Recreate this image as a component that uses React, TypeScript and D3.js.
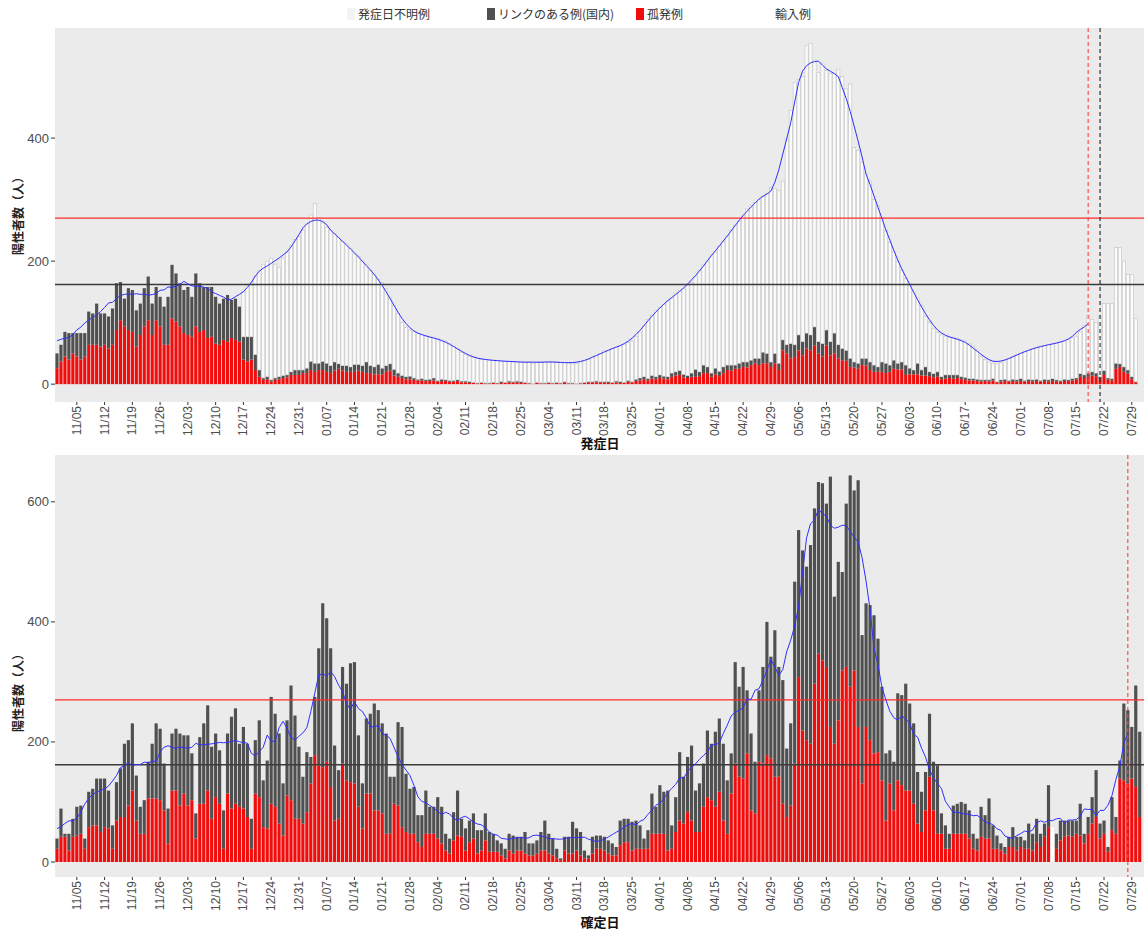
import * as d3 from "d3"

// day 0 = 2020-10-31, one value per day
const startDay = new Date(Date.UTC(2020, 9, 31))

const tickLabels = [
  "11/05", "11/12", "11/19", "11/26", "12/03", "12/10", "12/17", "12/24", "12/31",
  "01/07", "01/14", "01/21", "01/28", "02/04", "02/11", "02/18", "02/25", "03/04",
  "03/11", "03/18", "03/25", "04/01", "04/08", "04/15", "04/22", "04/29", "05/06",
  "05/13", "05/20", "05/27", "06/03", "06/10", "06/17", "06/24", "07/01", "07/08",
  "07/15", "07/22", "07/29",
]

// 発症日 panel: cumulative heights as read (孤発例 top, リンク top, 不明例 top)
const onsetIsolated = [
  26, 37, 45, 40, 50, 45, 40, 45, 64, 64,
  64, 61, 64, 58, 64, 88, 104, 94, 88, 85,
  61, 80, 94, 104, 80, 104, 94, 64, 64, 107,
  102, 94, 83, 80, 77, 94, 85, 88, 75, 77,
  66, 64, 72, 69, 75, 72, 69, 40, 37, 40,
  23, 12, 7, 8, 4, 7, 8, 10, 11, 15,
  15, 15, 18, 18, 23, 20, 23, 23, 20, 18,
  22, 25, 22, 20, 20, 20, 22, 20, 18, 18,
  16, 16, 16, 20, 22, 14, 12, 10, 8, 8,
  7, 6, 6, 5, 5, 6, 4, 5, 5, 4,
  4, 5, 3, 3, 2, 2, 1, 2, 1, 1,
  2, 1, 2, 2, 3, 3, 3, 2, 2, 1,
  1, 2, 1, 1, 2, 1, 2, 1, 3, 1,
  1, 1, 1, 2, 3, 3, 3, 3, 3, 2,
  2, 3, 2, 2, 4, 3, 5, 6, 8, 6,
  9, 8, 10, 9, 8, 12, 14, 15, 11, 10,
  12, 12, 13, 18, 18, 12, 16, 13, 18, 23,
  22, 25, 25, 28, 27, 31, 34, 31, 34, 34,
  28, 34, 23, 55, 50, 42, 44, 55, 47, 58,
  55, 63, 50, 45, 63, 47, 50, 42, 39, 38,
  28, 27, 25, 31, 30, 23, 20, 20, 20, 18,
  20, 25, 24, 24, 15, 16, 16, 16, 14, 14,
  13, 11, 12, 8, 9, 10, 9, 10, 8, 7,
  6, 6, 5, 4, 5, 4, 6, 3, 4, 5,
  4, 5, 4, 5, 4, 5, 4, 5, 4, 5,
  4, 5, 4, 4, 5, 5, 6, 7, 12, 10,
  12, 14, 13, 8, 15, 7, 6, 25, 28, 20,
  17, 8, 3, 0,
]
const onsetLinked = [
  50, 64, 85, 83, 83, 83, 83, 83, 118, 115,
  131, 115, 115, 110, 123, 164, 166, 139, 156, 153,
  120, 131, 156, 175, 131, 158, 142, 126, 142, 194,
  180, 164, 153, 158, 142, 180, 164, 158, 158, 158,
  142, 131, 139, 145, 137, 139, 126, 77, 77, 77,
  48, 23, 10, 12, 7, 10, 12, 14, 15, 20,
  23, 23, 23, 26, 37, 34, 34, 37, 34, 30,
  36, 33, 30, 30, 28, 32, 32, 30, 36, 30,
  28, 32, 26, 30, 33, 24, 18, 14, 12, 13,
  10, 8, 9, 7, 8, 10, 6, 8, 7, 6,
  6, 7, 5, 5, 4, 3, 2, 3, 2, 2,
  3, 2, 4, 3, 5, 4, 5, 4, 3, 2,
  1, 3, 2, 2, 3, 2, 3, 2, 4, 2,
  2, 1, 2, 3, 4, 4, 5, 4, 4, 4,
  3, 5, 4, 3, 6, 4, 8, 10, 12, 9,
  14, 12, 15, 13, 12, 18, 20, 22, 16, 14,
  18, 24, 20, 31, 28, 18, 26, 21, 28, 31,
  31, 31, 34, 36, 36, 39, 42, 42, 52, 50,
  36, 50, 34, 72, 64, 66, 64, 80, 69, 83,
  80, 93, 69, 66, 88, 69, 83, 64, 58, 55,
  42, 36, 34, 42, 42, 36, 31, 28, 36, 34,
  31, 39, 34, 36, 31, 26, 23, 34, 23, 28,
  20, 17, 20, 12, 15, 15, 15, 15, 12, 11,
  9, 9, 8, 7, 7, 7, 9, 4, 7, 8,
  6, 8, 7, 9, 6, 8, 7, 8, 6, 8,
  7, 9, 7, 6, 8, 7, 9, 10, 17, 15,
  18, 20, 18, 12, 22, 10, 9, 34, 33, 28,
  23, 12, 4, 0,
]
const onsetUnknown = [
  50, 64, 85, 83, 83, 83, 83, 83, 118, 115,
  131, 115, 115, 110, 123, 164, 166, 139, 156, 153,
  120, 131, 156, 175, 131, 158, 142, 126, 142, 194,
  180, 164, 153, 158, 142, 180, 164, 158, 158, 158,
  142, 131, 139, 145, 137, 139, 126, 150, 160, 165,
  175, 185, 195, 200, 205, 195, 190, 205, 215, 225,
  235, 240, 250, 260, 275, 294, 270, 262, 255, 250,
  245, 238, 232, 228, 220, 212, 208, 200, 195, 185,
  178, 170, 165, 155, 140, 128, 115, 100, 92, 88,
  85, 82, 80, 78, 76, 75, 74, 72, 70, 66,
  62, 58, 52, 48, 45, 43, 42, 40, 40, 39,
  39, 38, 38, 37, 37, 36, 36, 37, 36, 35,
  34, 36, 37, 36, 35, 36, 37, 36, 35, 34,
  33, 34, 36, 38, 40, 43, 46, 50, 54, 55,
  58, 60, 62, 65, 68, 70, 78, 85, 95, 105,
  112, 120, 125, 130, 135, 140, 148, 152, 155, 160,
  165, 175, 185, 195, 200, 210, 215, 225, 232, 240,
  250, 258, 265, 275, 285, 290, 295, 300, 305, 310,
  320, 318, 315, 330, 400, 445, 490, 495, 500, 551,
  554, 527, 507, 522, 510, 505, 505, 512, 500, 480,
  488, 385, 380, 360, 343, 330, 300, 290, 270, 250,
  230, 215, 200, 185, 172, 160, 150, 140, 128, 110,
  100, 90, 84, 80, 78, 76, 75, 74, 72, 70,
  66, 62, 56, 45, 40, 36, 34, 33, 35, 38,
  42, 45, 48, 50, 53, 55, 58, 60, 62, 63,
  64, 65, 66, 68, 70, 72, 75, 78, 85, 95,
  112, 105, 100, 112, 131, 131, 131, 222, 222, 200,
  178, 178, 107, 0,
]

// 確定日 panel: cumulative heights (孤発例 top, リンク top)
const confirmedIsolated = [
  22, 42, 42, 19, 42, 44, 47, 22, 58, 61,
  61, 50, 58, 56, 22, 69, 75, 75, 94, 119,
  69, 47, 47, 106, 106, 106, 103, 86, 31, 119,
  119, 94, 114, 94, 103, 39, 97, 97, 119, 72,
  108, 97, 22, 114, 89, 97, 92, 89, 75, 22,
  114, 108, 58, 56, 97, 92, 64, 44, 111, 103,
  72, 72, 64, 83, 131, 178, 161, 158, 167, 125,
  69, 72, 164, 136, 133, 131, 92, 56, 114, 114,
  86, 86, 81, 47, 47, 97, 94, 58, 50, 47,
  47, 33, 25, 47, 47, 47, 39, 31, 19, 14,
  36, 44, 42, 19, 33, 39, 14, 19, 36, 17,
  17, 17, 11, 6, 19, 14, 19, 19, 14, 11,
  11, 14, 19, 19, 14, 11, 6, 3, 19, 14,
  14, 19, 11, 6, 6, 14, 22, 22, 19, 14,
  11, 11, 28, 33, 33, 19, 22, 22, 22, 22,
  47, 47, 47, 47, 19, 22, 50, 69, 64, 83,
  69, 50, 50, 92, 108, 103, 92, 117, 69, 47,
  114, 164, 142, 139, 181, 86, 81, 167, 164, 178,
  172, 142, 142, 97, 75, 94, 164, 308, 219, 203,
  197, 297, 347, 336, 325, 225, 197, 236, 319, 325,
  292, 319, 225, 131, 225, 203, 181, 183, 136, 69,
  131, 86, 136, 128, 119, 119, 97, 64, 50, 86,
  142, 86, 47, 47, 22, 22, 47, 47, 47, 47,
  39, 22, 19, 42, 39, 39, 22, 22, 19, 14,
  25, 25, 19, 25, 22, 22, 19, 33, 25, 42,
  58, 0, 22, 36, 42, 44, 42, 47, 44, 31,
  47, 64, 75, 39, 47, 17, 53, 47, 139, 136,
  131, 139, 125, 75,
]
const confirmedLinked = [
  39, 89, 47, 47, 72, 92, 94, 39, 117, 122,
  139, 139, 139, 119, 61, 133, 156, 197, 203, 231,
  144, 92, 103, 167, 197, 231, 222, 164, 89, 214,
  222, 214, 211, 211, 181, 81, 208, 231, 261, 192,
  214, 186, 86, 214, 242, 256, 197, 225, 197, 72,
  203, 236, 136, 169, 275, 247, 214, 131, 236, 294,
  244, 192, 142, 183, 175, 275, 356, 431, 406, 356,
  194, 153, 325, 297, 331, 333, 211, 131, 239, 247,
  264, 253, 231, 214, 142, 142, 233, 225, 147, 122,
  125, 78, 78, 119, 92, 92, 108, 92, 47, 39,
  83, 119, 72, 56, 69, 81, 53, 53, 81, 50,
  47, 36, 31, 22, 47, 44, 42, 42, 50, 31,
  31, 36, 50, 69, 47, 39, 22, 6, 42, 42,
  67, 56, 50, 19, 11, 42, 44, 44, 42, 36,
  31, 25, 69, 72, 72, 67, 69, 61, 39, 53,
  114, 92, 128, 117, 119, 61, 108, 183, 142, 175,
  194, 119, 131, 164, 219, 197, 217, 239, 197, 136,
  181, 333, 292, 325, 286, 214, 167, 286, 325, 400,
  342, 386, 325, 303, 189, 231, 467, 553, 519, 492,
  528, 589, 633, 631, 597, 642, 442, 500, 483, 597,
  644, 619, 636, 378, 431, 428, 411, 372, 292, 181,
  186, 167, 281, 278, 297, 264, 231, 150, 117, 150,
  247, 167, 161, 81, 61, 47, 94, 97, 100, 97,
  86, 47, 39, 92, 78, 106, 61, 44, 31, 25,
  42, 58, 42, 42, 36, 64, 47, 72, 47, 64,
  128, 0, 47, 69, 69, 69, 69, 69, 97, 47,
  75, 108, 153, 64, 69, 25, 108, 75, 169, 264,
  253, 225, 294, 217,
]
const importDays = ["07/09"]
const importValues = [58]

const redLine = 270
const blackLine = 162
const onsetMarks = [{day: "07/18", color: "#ff4040"}, {day: "07/21", color: "#222"}]
const confirmedMarks = [{day: "07/28", color: "#ff4040"}]

const legendItems = [
  {label: "発症日不明例", fill: "#f3f3f3", x: 347},
  {label: "リンクのある例(国内)", fill: "#505050", x: 487},
  {label: "孤発例", fill: "#f20d0d", x: 636},
  {label: "輸入例", fill: "#ffffff", x: 764},
]

const toDate = (md: string) => {
  const [m, d] = md.split("/").map(Number)
  return new Date(Date.UTC(m >= 10 ? 2020 : 2021, m - 1, d))
}

const dates = d3.range(onsetLinked.length).map((i) => d3.utcDay.offset(startDay, i))
const importByDay = new Map(importDays.map((d, i) => [+toDate(d), importValues[i]]))
const confirmedImports = dates.map((d) => importByDay.get(+d) ?? 0)

const x = d3
  .scaleUtc()
  .domain([startDay, toDate("07/29")])
  .range([57, 57 + 3.966 * 271])
const barW = 3.966 * 0.8

const movingAverage = (vals: number[], last: number) =>
  d3.range(last + 1).map((i) => d3.mean(vals.slice(Math.max(0, i - 3), i + 4)) as number)

const tickFont = "'Liberation Sans', Arial, sans-serif"
const jpFont = "'Noto Sans CJK JP', sans-serif"

type Layer = {lo: number[]; hi: number[]; fill: string; stroke?: string}

const Panel = ({
  top, bottom, domain, yTicks, layers, totals, maEnd, marks, title, titleY, yTitleY,
}: {
  top: number; bottom: number; domain: [number, number]; yTicks: number[]
  layers: Layer[]; totals: number[]; maEnd: string
  marks: {day: string; color: string}[]; title: string; titleY: number; yTitleY: number
}) => {
  const y = d3.scaleLinear().domain(domain).range([bottom, top])
  const lastIdx = d3.utcDay.count(startDay, toDate(maEnd))
  const ma = movingAverage(totals, lastIdx)
  const line = d3
    .line<number>()
    .x((_, i) => x(dates[i]))
    .y((v) => y(v))
  const clipId = `clip-${top}`
  return (
    <g>
      <defs>
        <clipPath id={clipId}>
          <rect x={55} y={top} width={1100} height={bottom - top} />
        </clipPath>
      </defs>
      <rect x={55} y={top} width={1100} height={bottom - top} fill="#ebebeb" />
      <g clipPath={`url(#${clipId})`}>
        {layers.map((layer, li) =>
          dates.map((d, i) => {
            const h = layer.hi[i] - layer.lo[i]
            if (h <= 0) return null
            return (
              <rect
                key={`${li}-${i}`}
                x={x(d) - barW / 2}
                y={y(layer.hi[i])}
                width={barW}
                height={y(layer.lo[i]) - y(layer.hi[i])}
                fill={layer.fill}
                stroke={layer.stroke ?? "none"}
                strokeWidth={0.6}
              />
            )
          })
        )}
        <line x1={55} x2={1144} y1={y(redLine)} y2={y(redLine)} stroke="#ff2a2a" strokeWidth={1.1} />
        <line x1={55} x2={1144} y1={y(blackLine)} y2={y(blackLine)} stroke="#3a3a3a" strokeWidth={1.6} />
        <path d={line(ma) ?? ""} fill="none" stroke="#2f2fff" strokeWidth={1} />
        {marks.map((m) => (
          <line
            key={m.day}
            x1={x(toDate(m.day))}
            x2={x(toDate(m.day))}
            y1={top}
            y2={bottom}
            stroke={m.color}
            strokeWidth={1.1}
            strokeDasharray="4,3"
          />
        ))}
      </g>
      {yTicks.map((t) => (
        <g key={t}>
          <line x1={51} x2={55} y1={y(t)} y2={y(t)} stroke="#333" />
          <text x={49} y={y(t)} dy="0.35em" textAnchor="end" fontSize={13} fill="#4d4d4d" fontFamily={tickFont}>
            {t}
          </text>
        </g>
      ))}
      {tickLabels.map((t) => {
        const tx = x(toDate(t))
        return (
          <g key={t}>
            <line x1={tx} x2={tx} y1={bottom} y2={bottom + 3} stroke="#333" />
            <text
              transform={`translate(${tx + 4},${bottom + 4}) rotate(-90)`}
              textAnchor="end"
              fontSize={12}
              fill="#4d4d4d"
              fontFamily={tickFont}
            >
              {t}
            </text>
          </g>
        )
      })}
      <text x={600} y={titleY} textAnchor="middle" fontSize={13} fontWeight="bold" fontFamily={jpFont} fill="#111">
        {title}
      </text>
      <text
        transform={`translate(23,${yTitleY}) rotate(-90)`}
        textAnchor="middle"
        fontSize={12}
        fontWeight="bold"
        fontFamily={jpFont}
        fill="#222"
      >
        陽性者数（人）
      </text>
    </g>
  )
}

const App = () => {
  const zeros = dates.map(() => 0)
  const onsetLayers: Layer[] = [
    {lo: zeros, hi: onsetIsolated, fill: "#f20d0d"},
    {lo: onsetIsolated, hi: onsetLinked, fill: "#505050"},
    {lo: onsetLinked, hi: onsetUnknown, fill: "#fbfbfb", stroke: "#c4c4c4"},
  ]
  const confirmedTotals = confirmedLinked.map((v, i) => v + confirmedImports[i])
  const confirmedLayers: Layer[] = [
    {lo: zeros, hi: confirmedImports, fill: "#ffffff"},
    {lo: confirmedImports, hi: confirmedIsolated.map((v, i) => v + confirmedImports[i]), fill: "#f20d0d"},
    {lo: confirmedIsolated.map((v, i) => v + confirmedImports[i]), hi: confirmedTotals, fill: "#505050"},
  ]
  return (
    <svg width={1144} height={933} style={{position: "absolute", left: 0, top: 0, background: "#fff"}}>
      {legendItems.map((item) => (
        <g key={item.label}>
          <rect x={item.x} y={8} width={8} height={12} fill={item.fill} />
          <text x={item.x + 11} y={19} fontSize={12} fontFamily={jpFont} fill="#333">
            {item.label}
          </text>
        </g>
      ))}
      <Panel
        top={28}
        bottom={402}
        domain={[-29, 579]}
        yTicks={[0, 200, 400]}
        layers={onsetLayers}
        totals={onsetUnknown}
        maEnd="07/18"
        marks={onsetMarks}
        title="発症日"
        titleY={448}
        yTitleY={213}
      />
      <Panel
        top={455}
        bottom={877}
        domain={[-25, 678]}
        yTicks={[0, 200, 400, 600]}
        layers={confirmedLayers}
        totals={confirmedTotals}
        maEnd="07/28"
        marks={confirmedMarks}
        title="確定日"
        titleY={927}
        yTitleY={690}
      />
    </svg>
  )
}

export default App
